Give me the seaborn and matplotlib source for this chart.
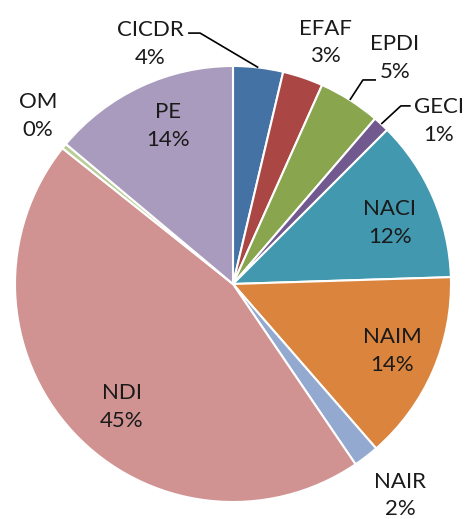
import matplotlib
matplotlib.use("Agg")
import matplotlib.pyplot as plt
import seaborn as sns

categories = ["CICDR", "EFAF", "EPDI", "GECI", "NACI", "NAIM", "NAIR", "NDI", "OM", "PE"]
values = [3.7, 3.0, 4.6, 1.2, 12.0, 14.1, 1.9, 45.2, 0.4, 13.9]
colors_hex = ["#4472A5", "#AA4643", "#89A54E", "#71588F", "#4198AF",
              "#DB843D", "#93A9CF", "#D19392", "#B9CD96", "#A99BBD"]

sns.set_theme(style="white")
plt.rcParams['font.family'] = ['Lato', 'DejaVu Sans']
palette = sns.color_palette(colors_hex)

fig = plt.figure(figsize=(4.66, 5.19), dpi=100)
ax = fig.add_axes([0, 0, 1, 1])
ax.axis("off")

wedges, _ = ax.pie(values, colors=palette, startangle=90, counterclock=False,
                   radius=1.0, wedgeprops=dict(edgecolor="white", linewidth=1.5))

ax.set_xlim(-233/218, 233/218)
ax.set_ylim(-235/218, 284/218)
ax.set_aspect("equal")

total = sum(values)
label_pos = {
    "CICDR": (-0.381, 1.101),
    "EFAF": (0.422, 1.106),
    "EPDI": (0.743, 1.037),
    "GECI": (0.945, 0.748),
    "NACI": (0.720, 0.280),
    "NAIM": (0.729, -0.307),
    "NAIR": (0.766, -0.972),
    "NDI": (-0.509, -0.564),
    "OM": (-0.894, 0.771),
    "PE": (-0.298, 0.725),
}
for cat, v in zip(categories, values):
    x, y = label_pos[cat]
    ax.text(x, y, f"{cat}\n{round(v / total * 100):.0f}%", ha="center", va="center",
            fontsize=16, color="#1a1a1a", linespacing=1.45)

leaders = {
    "CICDR": [(-0.206, 1.151), (-0.151, 1.151), (0.116, 0.993)],
    "EPDI": [(0.656, 0.936), (0.596, 0.936), (0.536, 0.844)],
    "GECI": [(0.815, 0.817), (0.770, 0.817), (0.680, 0.734)],
}
for pts in leaders.values():
    xs, ys = zip(*pts)
    ax.plot(xs, ys, color="black", lw=1.2, solid_capstyle="butt")

fig.savefig("out.png", dpi=100)
